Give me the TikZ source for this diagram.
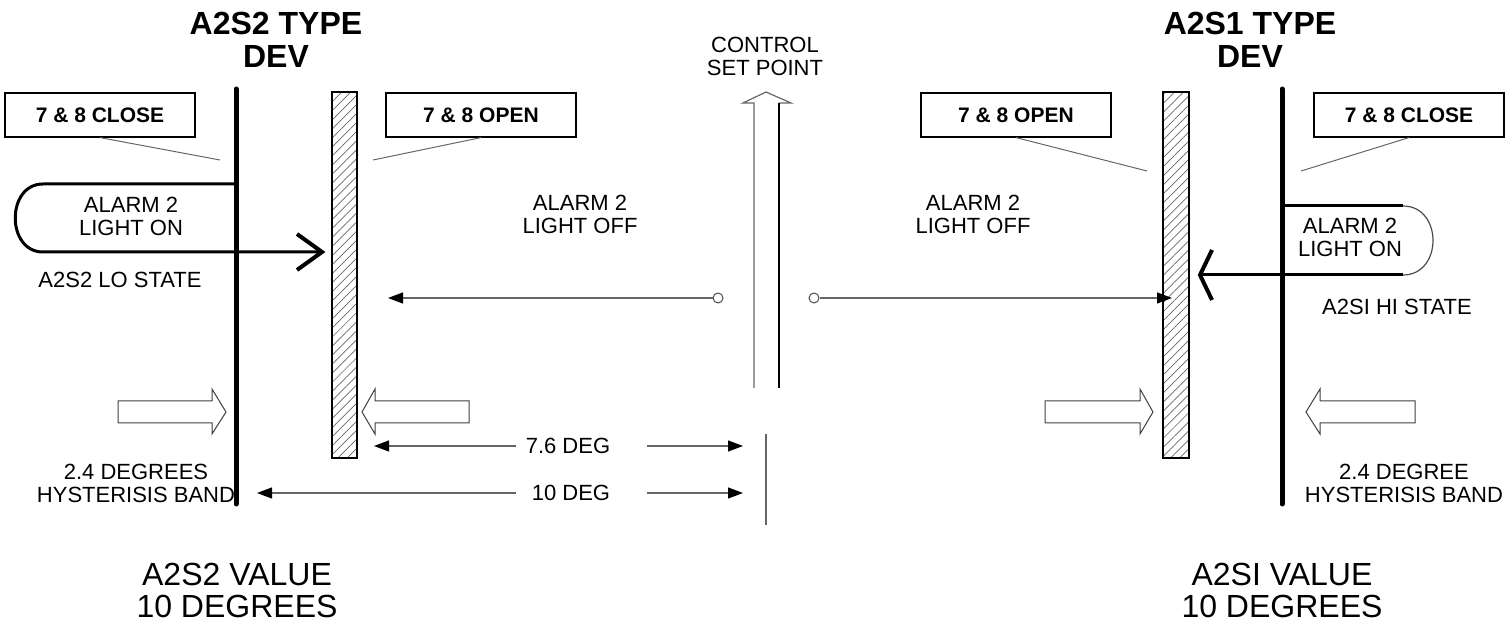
\documentclass[tikz,border=0pt]{standalone}
\usepackage{fontspec}
\setmainfont{Liberation Sans}
\usetikzlibrary{arrows.meta,patterns.meta}
\begin{document}
\begin{tikzpicture}[x=0.5pt,y=-0.5pt,
  lbl/.style={font=\fontsize{11}{11.5}\selectfont, align=center, inner sep=0pt},
  ttl/.style={font=\fontsize{16}{16.5}\selectfont\bfseries, align=center, inner sep=0pt},
  big/.style={font=\fontsize{16}{16}\selectfont, align=center, inner sep=0pt},
  tagbox/.style={draw, line width=0.6pt, minimum width=95pt, minimum height=22pt, inner sep=0pt,
                 font=\fontsize{10.5}{12}\selectfont\bfseries},
  leader/.style={draw=black!60, line width=0.5pt},
  bar/.style={line width=2.5pt, line cap=round},
  hatch/.style={draw, line width=1.1pt, pattern={Lines[angle=45,distance=3.2pt,line width=0.35pt]}, pattern color=black!60},
  alarm/.style={line width=1.5pt},
  chev/.style={line width=2pt},
  hollow/.style={draw=black!75, line width=0.5pt, fill=white},
  dim/.style={draw=black!60, line width=0.6pt, -{Triangle[length=7.5pt,width=5.5pt,color=black]}},
  thin/.style={draw=black!60, line width=0.6pt}
]
\useasboundingbox (0,0) rectangle (1510,624);

% titles
\node[ttl] (t2) at (276,40) {A2S2 TYPE\\DEV};
\node[ttl] (t1) at (1250,40) {A2S1 TYPE\\DEV};
\node[lbl] (csp) at (765,56) {CONTROL\\SET POINT};

% tag boxes
\node[tagbox] (closeL) at (100,115) {7 \& 8 CLOSE};
\node[tagbox] (openL) at (481,115) {7 \& 8 OPEN};
\node[tagbox] (openR) at (1016,115) {7 \& 8 OPEN};
\node[tagbox] (closeR) at (1409,115) {7 \& 8 CLOSE};

\coordinate (lc) at (220,160);
\coordinate (lo) at (373,160);
\coordinate (ro) at (1147,171);
\coordinate (rc) at (1301,171);
\draw[leader] (closeL.south) -- (lc);
\draw[leader] (openL.south) -- (lo);
\draw[leader] (openR.south) -- (ro);
\draw[leader] (closeR.south) -- (rc);

% bars
\coordinate (barLt) at (236,89); \coordinate (barLb) at (236,504);
\coordinate (barRt) at (1282,89); \coordinate (barRb) at (1282,504);
\draw[bar] (barLt) -- (barLb);
\draw[bar] (barRt) -- (barRb);
\draw[hatch] (332,92) rectangle (357,458);
\draw[hatch] (1163,92) rectangle (1189,458);

% left alarm loop
\draw[alarm] (236,184) -- (43,184) .. controls (6,184) and (6,252) .. (43,252) -- (322,252);
\draw[chev] (297,234) -- (322,252) -- (297,270);
\node[lbl] (aonL) at (131,216) {ALARM 2\\LIGHT ON};
\node[lbl] (loL) at (120,280) {A2S2 LO STATE};

% right alarm loop
\draw[alarm] (1282,206) -- (1403,206);
\draw[draw=black!70, line width=0.6pt] (1403,206) .. controls (1443,206) and (1443,275) .. (1403,275);
\draw[alarm] (1403,275) -- (1200,275);
\draw[chev] (1212,250) -- (1200,275) -- (1212,300);
\node[lbl] (aonR) at (1350,237) {ALARM 2\\LIGHT ON};
\node[lbl] (hiR) at (1397,307) {A2SI HI STATE};

% light off
\node[lbl] (aoffL) at (580,214) {ALARM 2\\LIGHT OFF};
\node[lbl] (aoffR) at (973,214) {ALARM 2\\LIGHT OFF};

% control set point arrow
\draw[draw=black!60, line width=0.6pt] (754,388) -- (754,103) -- (743,103) -- (766,92) -- (791,103) -- (779,103);
\draw[line width=0.6pt] (779,103) -- (779,388);

% circle lines
\node[draw=black!70, circle, minimum size=5pt, inner sep=0pt, line width=0.5pt] (cL) at (718,298) {};
\node[draw=black!70, circle, minimum size=5pt, inner sep=0pt, line width=0.5pt] (cR) at (814,298) {};
\coordinate (cLt) at (388,298);
\coordinate (cRt) at (1172,298);
\draw[dim] (cL.west) -- (cLt);
\draw[dim] (cR.east) -- (cRt);

% hollow arrows
\draw[hollow] (118,401) -- (212,401) -- (212,389) -- (226,412) -- (212,434) -- (212,423) -- (118,423) -- cycle;
\draw[hollow] (469,401) -- (375,401) -- (375,389) -- (362,412) -- (375,434) -- (375,423) -- (469,423) -- cycle;
\draw[hollow] (1045,401) -- (1140,401) -- (1140,389) -- (1153,412) -- (1140,434) -- (1140,423) -- (1045,423) -- cycle;
\draw[hollow] (1415,401) -- (1320,401) -- (1320,389) -- (1306,412) -- (1320,434) -- (1320,423) -- (1415,423) -- cycle;

% dimensions
\node[lbl] (d76) at (568,446) {7.6 DEG};
\node[lbl] (d10) at (571,493) {10 DEG};
\coordinate (d76a) at (516,446); \coordinate (d76l) at (374,446);
\coordinate (d76b) at (647,446); \coordinate (d76r) at (743,446);
\coordinate (d10a) at (516,493); \coordinate (d10l) at (257,493);
\coordinate (d10b) at (647,493); \coordinate (d10r) at (743,493);
\draw[dim] (d76a) -- (d76l);
\draw[dim] (d76b) -- (d76r);
\draw[dim] (d10a) -- (d10l);
\draw[dim] (d10b) -- (d10r);
\coordinate (spt) at (766,434); \coordinate (spb) at (766,525);
\draw[thin] (spt) -- (spb);

% hysteresis labels
\node[lbl] (hyL) at (136,483) {2.4 DEGREES\\HYSTERISIS BAND};
\node[lbl] (hyR) at (1404,483) {2.4 DEGREE\\HYSTERISIS BAND};

% values
\node[big] (vL) at (237,590) {A2S2 VALUE\\10 DEGREES};
\node[big] (vR) at (1282,590) {A2SI VALUE\\10 DEGREES};
\end{tikzpicture}
\end{document}
